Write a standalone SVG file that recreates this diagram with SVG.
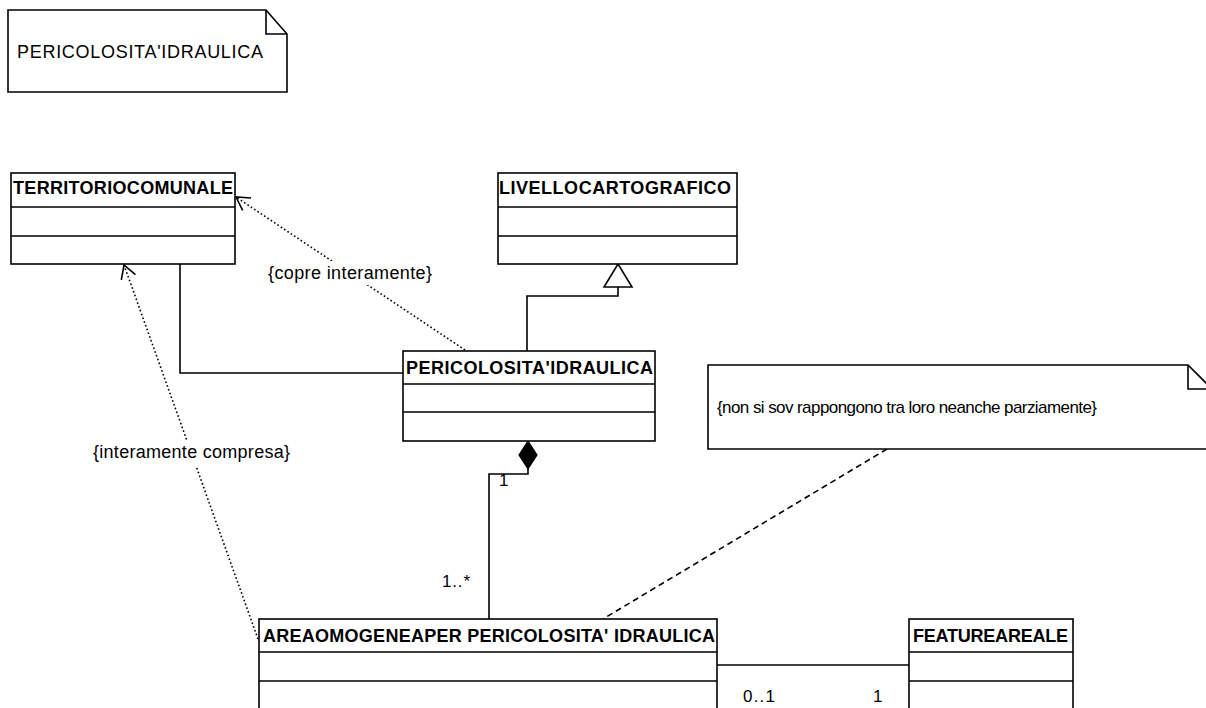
<svg xmlns="http://www.w3.org/2000/svg" width="1206" height="708" viewBox="0 0 1206 708">
  <style>
    .box { fill: #fff; stroke: #000; stroke-width: 1.6; }
    .sep { stroke: #000; stroke-width: 1.6; fill: none; }
    .cname { font-family: "Liberation Sans", Arial, sans-serif; font-size: 18px; font-weight: bold; fill: #000; }
    .txt { font-family: "Liberation Sans", Arial, sans-serif; font-size: 17px; fill: #000; }
    .big { font-size: 18px; }
    .assoc { stroke: #000; stroke-width: 1.6; fill: none; }
    .dep { stroke: #000; stroke-width: 1.6; fill: none; stroke-dasharray: 1.6 2.4; }
    .anchor { stroke: #000; stroke-width: 1.6; fill: none; stroke-dasharray: 6 4; }
    .lblbg { fill: #fff; stroke: none; }
  </style>
  <defs>
    <marker id="openArrow" markerUnits="userSpaceOnUse" markerWidth="20" markerHeight="20" viewBox="-16 -10 20 20" refX="0" refY="0" orient="auto">
      <path d="M -13 -7.5 L 0 0 L -13 7.5" fill="none" stroke="#000" stroke-width="1.6"/>
    </marker>
  </defs>
  <rect width="1206" height="708" fill="#fff"/>

  <!-- diagram title note -->
  <g id="note-title">
    <path class="box" d="M8,10 L266,10 L287,34 L287,92 L8,92 Z"/>
    <path class="sep" d="M266,10 L266,34 L287,34"/>
    <text class="txt big" x="17" y="58" textLength="246" lengthAdjust="spacing">PERICOLOSITA'IDRAULICA</text>
  </g>

  <!-- connectors -->
  <g id="connectors">
    <!-- association TERRITORIOCOMUNALE - PERICOLOSITA'IDRAULICA -->
    <path class="assoc" d="M180,264 L180,373 L403,373"/>
    <!-- generalization to LIVELLOCARTOGRAFICO -->
    <path class="assoc" d="M527,351 L527,296 L618,296 L618,287"/>
    <path class="box" d="M618,264 L632,287 L604,287 Z"/>
    <!-- composition PERICOLOSITA'IDRAULICA - AREAOMOGENEA -->
    <path class="assoc" d="M528,469 L528,474 L489,474 L489,619"/>
    <path d="M528,441 L537,455 L528,469 L519,455 Z" fill="#000" stroke="#000" stroke-width="1.2"/>
    <!-- association AREAOMOGENEA - FEATUREAREALE -->
    <path class="assoc" d="M717,665 L909,665"/>
    <!-- constraint dependencies -->
    <path class="dep" d="M465,350 L236,197" marker-end="url(#openArrow)"/>
    <path class="dep" d="M258,639 L124,265" marker-end="url(#openArrow)"/>
    <!-- note anchor -->
    <path class="anchor" d="M887,449 L603,619"/>
    <!-- labels -->
    <rect class="lblbg" x="266" y="261" width="170" height="24"/>
    <text class="txt big" x="268" y="279" textLength="164" lengthAdjust="spacing">{copre interamente}</text>
    <rect class="lblbg" x="90" y="440" width="204" height="26"/>
    <text class="txt big" x="93" y="458" textLength="197" lengthAdjust="spacing">{interamente compresa}</text>
    <text class="txt" x="499" y="486">1</text>
    <text class="txt" x="442" y="587" textLength="28" lengthAdjust="spacing">1..*</text>
    <text class="txt" x="743" y="702" textLength="32" lengthAdjust="spacing">0..1</text>
    <text class="txt" x="873" y="702">1</text>
  </g>

  <g id="class-territoriocomunale">
    <rect class="box" x="11" y="173" width="224" height="91"/>
    <path class="sep" d="M11,207 L235,207 M11,236 L235,236"/>
    <text class="cname" x="13" y="194" textLength="220" lengthAdjust="spacing">TERRITORIOCOMUNALE</text>
  </g>

  <g id="class-livellocartografico">
    <rect class="box" x="498" y="173" width="239" height="91"/>
    <path class="sep" d="M498,207 L737,207 M498,236 L737,236"/>
    <text class="cname" x="499" y="194" textLength="232" lengthAdjust="spacing">LIVELLOCARTOGRAFICO</text>
  </g>

  <g id="class-pericolosita">
    <rect class="box" x="403" y="351" width="252" height="90"/>
    <path class="sep" d="M403,384 L655,384 M403,412 L655,412"/>
    <text class="cname" x="406" y="374" textLength="247" lengthAdjust="spacing">PERICOLOSITA'IDRAULICA</text>
  </g>

  <g id="note-sovrapposizione">
    <path class="box" d="M708,365 L1188,365 L1212,389 L1212,449 L708,449 Z"/>
    <path class="sep" d="M1188,365 L1188,389 L1212,389"/>
    <text class="txt" x="717" y="413" textLength="380" lengthAdjust="spacing">{non si sov rappongono tra loro neanche parziamente}</text>
  </g>

  <g id="class-areaomogenea">
    <rect class="box" x="259" y="619" width="458" height="110"/>
    <path class="sep" d="M259,652 L717,652 M259,681 L717,681"/>
    <text class="cname" x="263" y="642" textLength="452" lengthAdjust="spacing">AREAOMOGENEAPER PERICOLOSITA' IDRAULICA</text>
  </g>

  <g id="class-featureareale">
    <rect class="box" x="909" y="619" width="164" height="110"/>
    <path class="sep" d="M909,652 L1073,652 M909,681 L1073,681"/>
    <text class="cname" x="913" y="642" textLength="155" lengthAdjust="spacing">FEATUREAREALE</text>
  </g>
</svg>
